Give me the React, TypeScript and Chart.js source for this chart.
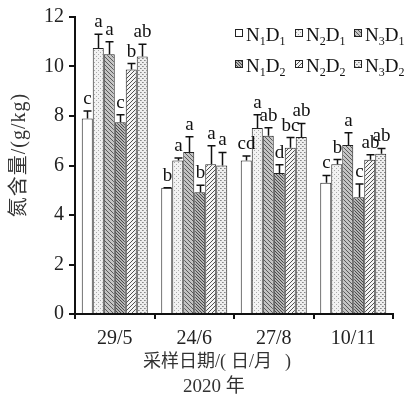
import React, { useEffect, useRef } from "react";
import { Chart, registerables } from "chart.js";

Chart.register(...registerables);

const categories = ["29/5", "24/6", "27/8", "10/11"];
const seriesNames = ["N1D1", "N2D1", "N3D1", "N1D2", "N2D2", "N3D2"];
const values = [
  [7.9, 5.1, 6.2, 5.3],
  [10.75, 6.2, 7.52, 6.05],
  [10.5, 6.55, 7.2, 6.83],
  [7.75, 4.92, 5.7, 4.72],
  [9.88, 6.05, 6.72, 6.23],
  [10.4, 6.0, 7.15, 6.47],
];
const errTops = [
  [8.2, 5.1, 6.38, 5.6],
  [11.3, 6.3, 8.05, 6.24],
  [11.0, 7.16, 7.53, 7.32],
  [8.05, 5.2, 6.03, 5.25],
  [10.12, 6.8, 7.13, 6.43],
  [10.9, 6.53, 7.7, 6.69],
];
const letters = [
  ["c", "b", "cd", "c"],
  ["a", "a", "a", "b"],
  ["a", "a", "ab", "a"],
  ["c", "b", "d", "c"],
  ["b", "a", "bc", "ab"],
  ["ab", "a", "ab", "ab"],
];
const yTicks = [0, 2, 4, 6, 8, 10, 12];

const SERIF = "'Liberation Serif', 'Times New Roman', serif";
const MIXED = "'Liberation Serif', 'Noto Sans CJK SC', serif";

function makePattern(kind: string): CanvasPattern | string {
  if (kind === "white") return "#ffffff";
  const c = document.createElement("canvas");
  const s = kind === "hatchDense" ? 3 : 4;
  c.width = s;
  c.height = s;
  const ctx = c.getContext("2d")!;
  const px = (x: number, y: number, col: string) => {
    ctx.fillStyle = col;
    ctx.fillRect(x, y, 1, 1);
  };
  if (kind === "dotsLight") {
    ctx.fillStyle = "#f2f2f2";
    ctx.fillRect(0, 0, s, s);
    px(0, 0, "#a8a8a8");
    px(2, 2, "#a8a8a8");
  } else if (kind === "hatchBack") {
    ctx.fillStyle = "#c4c4c4";
    ctx.fillRect(0, 0, s, s);
    for (let x = 0; x < s; x++) for (let y = 0; y < s; y++) if ((x - y + s) % s === 0) px(x, y, "#5a5a5a");
  } else if (kind === "hatchDense") {
    ctx.fillStyle = "#b4b4b4";
    ctx.fillRect(0, 0, s, s);
    for (let x = 0; x < s; x++) for (let y = 0; y < s; y++) if ((x - y + s) % s === 0) px(x, y, "#4a4a4a");
  } else if (kind === "hatchFwd") {
    ctx.fillStyle = "#f4f4f4";
    ctx.fillRect(0, 0, s, s);
    for (let x = 0; x < s; x++) for (let y = 0; y < s; y++) if ((x + y) % s === 0) px(x, y, "#505050");
  } else if (kind === "dotsCoarse") {
    ctx.fillStyle = "#eeeeee";
    ctx.fillRect(0, 0, s, s);
    px(0, 0, "#888888");
    px(1, 0, "#aaaaaa");
    px(2, 2, "#888888");
    px(3, 2, "#aaaaaa");
  }
  return ctx.createPattern(c, "repeat")!;
}

const patternKinds = ["white", "dotsLight", "hatchBack", "hatchDense", "hatchFwd", "dotsCoarse"];

export default function App() {
  const ref = useRef<HTMLCanvasElement>(null);

  useEffect(() => {
    const fills = patternKinds.map((k) => makePattern(k));

    const overlay = {
      id: "overlay",
      afterDatasetsDraw(chart: any) {
        const ctx = chart.ctx as CanvasRenderingContext2D;
        const ys = chart.scales.y;
        ctx.save();
        for (let i = 0; i < values.length; i++) {
          const meta = chart.getDatasetMeta(i);
          meta.data.forEach((bar: any, j: number) => {
            const x = Math.round(bar.x) + 0.5;
            const yTop = bar.y;
            const yErr = ys.getPixelForValue(errTops[i][j]);
            ctx.strokeStyle = "#111";
            ctx.lineWidth = 1.5;
            ctx.beginPath();
            ctx.moveTo(x, yTop);
            ctx.lineTo(x, yErr);
            ctx.moveTo(x - 4, yErr);
            ctx.lineTo(x + 4, yErr);
            ctx.stroke();
            ctx.fillStyle = "#111";
            ctx.font = `19px ${SERIF}`;
            ctx.textAlign = "center";
            ctx.textBaseline = "alphabetic";
            ctx.fillText(letters[i][j], x, yErr - 7);
          });
        }
        ctx.restore();
      },
      afterDraw(chart: any) {
        const ctx = chart.ctx as CanvasRenderingContext2D;
        ctx.save();
        // legend
        const colsX = [235, 295, 354];
        const rowsY = [41, 72];
        seriesNames.forEach((name, k) => {
          const col = k % 3;
          const row = Math.floor(k / 3);
          const bx = colsX[col];
          const base = rowsY[row];
          ctx.fillStyle = fills[k] as any;
          ctx.fillRect(bx, base - 12, 8, 8);
          ctx.strokeStyle = "#222";
          ctx.lineWidth = 1;
          ctx.strokeRect(bx + 0.5, base - 12 + 0.5, 7, 7);
          let tx = bx + 11;
          ctx.fillStyle = "#111";
          ctx.textAlign = "left";
          ctx.textBaseline = "alphabetic";
          const parts = [name[0], name[1], name[2], name[3]];
          parts.forEach((p, pi) => {
            const sub = pi % 2 === 1;
            ctx.font = sub ? `12px ${SERIF}` : `19px ${SERIF}`;
            ctx.fillText(p, tx, sub ? base + 4 : base);
            tx += ctx.measureText(p).width;
          });
        });
        // x axis title
        ctx.fillStyle = "#333";
        ctx.textBaseline = "middle";
        ctx.textAlign = "left";
        ctx.font = `18px ${MIXED}`;
        ctx.fillText("采样日期/(", 143, 362);
        ctx.fillText("日/月", 231, 362);
        ctx.fillText(")", 285, 362);
        ctx.textAlign = "center";
        ctx.font = `19px ${MIXED}`;
        ctx.fillText("2020 年", 214, 387);
        // y axis title
        ctx.translate(20, 155);
        ctx.rotate(-Math.PI / 2);
        ctx.font = `20px ${MIXED}`;
        (ctx as any).letterSpacing = "1px";
        ctx.fillText("氮含量/(g/kg)", 0, 0);
        ctx.restore();
      },
    };

    const chart = new Chart(ref.current!, {
      type: "bar",
      data: {
        labels: categories,
        datasets: seriesNames.map((n, i) => ({
          label: n,
          data: values[i],
          backgroundColor: fills[i] as any,
          borderColor: "#222",
          borderWidth: 1,
          barPercentage: 1,
          categoryPercentage: 0.83,
        })),
      },
      options: {
        responsive: false,
        animation: false,
        events: [],
        layout: { padding: { top: 14, right: 21, left: 0, bottom: 0 } },
        plugins: { legend: { display: false }, tooltip: { enabled: false }, title: { display: false } },
        scales: {
          x: {
            grid: { drawOnChartArea: false, tickLength: 5, color: "#111", lineWidth: 2, offset: true },
            border: { display: true, color: "#111", width: 2 },
            ticks: { font: { family: SERIF, size: 20 }, color: "#222", padding: 8 },
            afterFit: (s: any) => {
              s.height = 95;
            },
          },
          y: {
            min: 0,
            max: 12,
            afterBuildTicks: (s: any) => {
              s.ticks = yTicks.map((v) => ({ value: v }));
            },
            grid: { drawOnChartArea: false, tickLength: 6, color: "#111", lineWidth: 2 },
            border: { display: true, color: "#111", width: 2 },
            ticks: { font: { family: SERIF, size: 20 }, color: "#222", padding: 5 },
            afterFit: (s: any) => {
              s.width = 75;
            },
          },
        },
      },
      plugins: [overlay],
    });
    return () => chart.destroy();
  }, []);

  return (
    <div style={{ position: "absolute", left: 0, top: 0, width: 414, height: 409, background: "#fff" }}>
      <canvas ref={ref} width={414} height={409} style={{ width: 414, height: 409, display: "block" }} />
    </div>
  );
}
